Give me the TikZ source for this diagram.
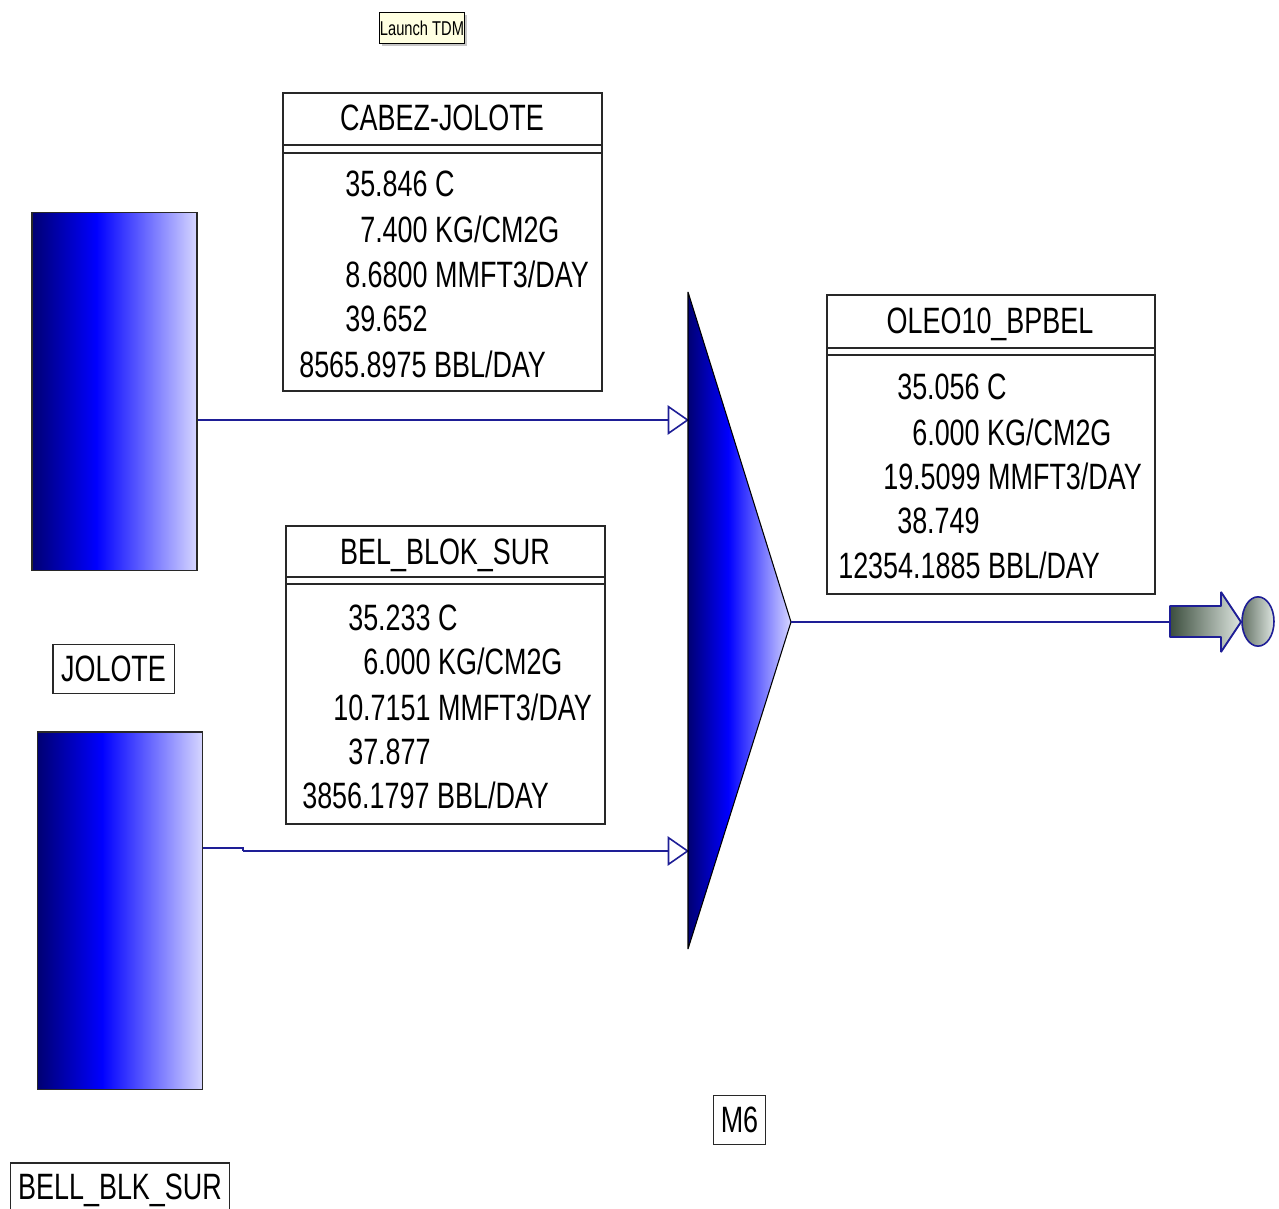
\documentclass[tikz,border=0pt]{standalone}
\usepackage{fontspec}
\setmainfont{Liberation Sans}
\newfontfamily\narrowfont[FakeStretch=0.735]{Liberation Sans}
\usetikzlibrary{arrows.meta,shadows,shapes.geometric}
\definecolor{pipeblue}{RGB}{30,30,150}
\definecolor{boxedge}{RGB}{40,40,40}
\definecolor{gdark}{RGB}{60,78,62}
\definecolor{gpale}{RGB}{222,230,224}
\definecolor{tipyellow}{RGB}{255,255,225}
\pgfdeclarehorizontalshading{vesselshade}{100bp}{
  rgb(0bp)=(0,0,.45);
  rgb(25bp)=(0,0,.45);
  rgb(44.5bp)=(0,0,1);
  rgb(75bp)=(.84,.84,1);
  rgb(100bp)=(.84,.84,1)}
\tikzset{
  x=0.75pt,y=-0.75pt,
  tank/.style={draw=boxedge,line width=1pt,minimum width=123.75pt,minimum height=268pt,inner sep=0pt,shading=vesselshade},
  databox/.style={draw=boxedge,line width=1pt,fill=white},
  lbl/.style={draw=boxedge,line width=1pt,fill=white,inner sep=0pt,font=\narrowfont\fontsize{27.5}{30}\selectfont,text depth=0pt},
  val/.style={anchor=base west,inner sep=0pt,font=\narrowfont\fontsize{27.5}{30}\selectfont},
  title/.style={anchor=base,inner sep=0pt,font=\narrowfont\fontsize{27.5}{30}\selectfont},
  pipe/.style={draw=pipeblue,line width=1.2pt},
  feed/.style={pipe,-{Triangle[open,length=16pt,width=22pt,line width=1.2pt]}},
  outlet/.style={draw=pipeblue,line width=1.4pt,left color=gdark,right color=gpale}
}
\begin{document}
\begin{tikzpicture}
\useasboundingbox (0,0) rectangle (1279,1209);
% tooltip
\node[draw=black,line width=1pt,fill=tipyellow,minimum width=64pt,minimum height=23pt,inner sep=0pt,
  drop shadow={shadow xshift=2pt,shadow yshift=-2pt,opacity=.45},
  font=\narrowfont\fontsize{15}{18}\selectfont] (tdm) at (422,28) {Launch TDM};
% tanks
\node[tank] (jolote) at (114.5,391.5) {};
\node[tank] (bell) at (120,910.5) {};
\node[lbl,minimum width=91pt,minimum height=37pt] (jololbl) at (113.5,669) {JOLOTE};
\node[lbl,minimum width=164pt,minimum height=36pt] (belllbl) at (120,1187) {BELL\_BLK\_SUR};
\node[lbl,minimum width=39pt,minimum height=37pt] (m6lbl) at (739.5,1120) {M6};
% mixer
\coordinate (mixtop) at (688,292);
\coordinate (mixtip) at (791,622);
\coordinate (mixbot) at (688,949);
\coordinate (in1) at (689,420);
\coordinate (in2a) at (243,851);
\coordinate (in2) at (689,851);
\coordinate (bend) at (243,848);
% connectors
\draw[feed] (jolote.east |- in1) -- (in1);
\draw[pipe] (bell.east |- bend) -- (bend) -- (in2a);
\draw[feed] (in2a) -- (in2);
\shade[shading=vesselshade,draw=black,line width=.8pt,line join=bevel] (mixtop) -- (mixtip) -- (mixbot) -- cycle;
% outlet
\coordinate (outstart) at (1170,622);
\draw[pipe] (mixtip) -- (outstart);
\path[outlet,line join=bevel] (1170,606) -- (1221,606) -- (1221,592) -- (1241,622) -- (1221,652) -- (1221,637) -- (1170,637) -- cycle;
\node[draw=pipeblue,line width=1.2pt,ellipse,minimum width=24pt,minimum height=37pt,inner sep=0pt,left color=gdark!80!white,right color=gpale] (sink) at (1258,621.5) {};
% CABEZ box
\draw[databox] (283,93) rectangle (602,391);
\draw[boxedge,line width=1pt] (283,145) -- (602,145) (283,153) -- (602,153);
\node[title] (t1) at (442,131) {CABEZ-JOLOTE};
\node[val] (a1) at (345,197) {35.846 C};
\node[val] (a2) at (360,243) {7.400 KG/CM2G};
\node[val] (a3) at (345,287) {8.6800 MMFT3/DAY};
\node[val] (a4) at (345,331) {39.652};
\node[val] (a5) at (299,377) {8565.8975 BBL/DAY};
% BEL box
\draw[databox] (286,526) rectangle (605,824);
\draw[boxedge,line width=1pt] (286,577) -- (605,577) (286,584) -- (605,584);
\node[title] (t2) at (445,564) {BEL\_BLOK\_SUR};
\node[val] (b1) at (348,630) {35.233 C};
\node[val] (b2) at (363,674) {6.000 KG/CM2G};
\node[val] (b3) at (333,720) {10.7151 MMFT3/DAY};
\node[val] (b4) at (348,764) {37.877};
\node[val] (b5) at (302,808) {3856.1797 BBL/DAY};
% OLEO box
\draw[databox] (827,295) rectangle (1155,594);
\draw[boxedge,line width=1pt] (827,348) -- (1155,348) (827,355) -- (1155,355);
\node[title] (t3) at (990,333) {OLEO10\_BPBEL};
\node[val] (c1) at (897,399) {35.056 C};
\node[val] (c2) at (912,445) {6.000 KG/CM2G};
\node[val] (c3) at (883,489) {19.5099 MMFT3/DAY};
\node[val] (c4) at (897,533) {38.749};
\node[val] (c5) at (838,578) {12354.1885 BBL/DAY};
\end{tikzpicture}
\end{document}
